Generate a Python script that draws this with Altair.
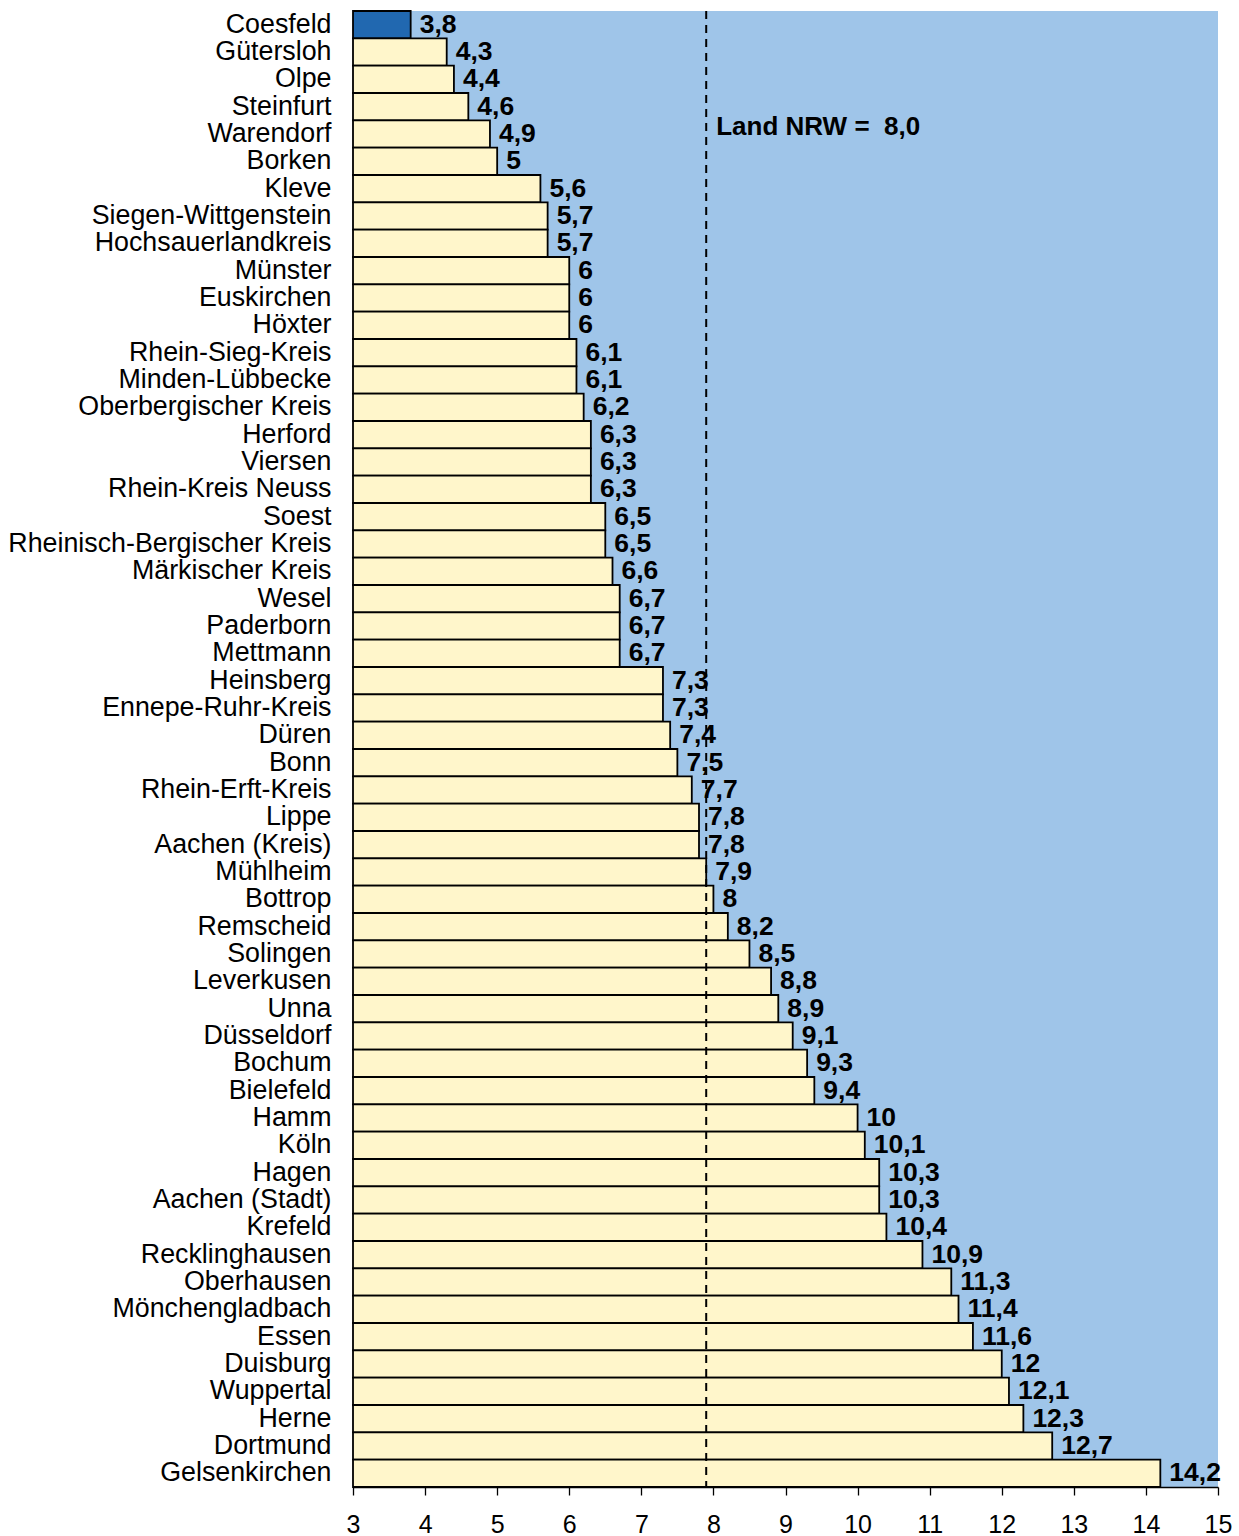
import altair as alt
import pandas as pd

regions = ["Coesfeld", "Gütersloh", "Olpe", "Steinfurt", "Warendorf", "Borken", "Kleve",
           "Siegen-Wittgenstein", "Hochsauerlandkreis", "Münster", "Euskirchen", "Höxter",
           "Rhein-Sieg-Kreis", "Minden-Lübbecke", "Oberbergischer Kreis", "Herford", "Viersen",
           "Rhein-Kreis Neuss", "Soest", "Rheinisch-Bergischer Kreis", "Märkischer Kreis",
           "Wesel", "Paderborn", "Mettmann", "Heinsberg", "Ennepe-Ruhr-Kreis", "Düren", "Bonn",
           "Rhein-Erft-Kreis", "Lippe", "Aachen (Kreis)", "Mühlheim", "Bottrop", "Remscheid",
           "Solingen", "Leverkusen", "Unna", "Düsseldorf", "Bochum", "Bielefeld", "Hamm", "Köln",
           "Hagen", "Aachen (Stadt)", "Krefeld", "Recklinghausen", "Oberhausen",
           "Mönchengladbach", "Essen", "Duisburg", "Wuppertal", "Herne", "Dortmund",
           "Gelsenkirchen"]
values = [3.8, 4.3, 4.4, 4.6, 4.9, 5, 5.6, 5.7, 5.7, 6, 6, 6, 6.1, 6.1, 6.2, 6.3, 6.3, 6.3,
          6.5, 6.5, 6.6, 6.7, 6.7, 6.7, 7.3, 7.3, 7.4, 7.5, 7.7, 7.8, 7.8, 7.9, 8, 8.2, 8.5,
          8.8, 8.9, 9.1, 9.3, 9.4, 10, 10.1, 10.3, 10.3, 10.4, 10.9, 11.3, 11.4, 11.6, 12,
          12.1, 12.3, 12.7, 14.2]
highlight = ["Coesfeld"]
nrw_line = 7.9
nrw_text = "Land NRW =\u00a0\u00a08,0"
x_ticks = list(range(3, 16))

def fmt(v):
    s = f"{v:g}"
    return s.replace(".", ",")

df = pd.DataFrame({
    "region": regions,
    "value": values,
    "label": [fmt(v) for v in values],
    "hl": ["yes" if r in highlight else "no" for r in regions],
})

FONT = "Liberation Sans"
xscale = alt.Scale(domain=[3, 15], nice=False, zero=False)
yscale = alt.Scale(domain=regions, paddingInner=0, paddingOuter=0)

base = alt.Chart(df)

bars = base.mark_bar(stroke="black", strokeWidth=1.8).encode(
    x=alt.X("value:Q", scale=xscale,
            axis=alt.Axis(values=x_ticks, format="d", title=None, tickSize=8, tickColor="black",
                          domainColor="black", labelFontSize=25, labelColor="black",
                          labelFont=FONT, labelPadding=17, grid=False, tickWidth=1.3,
                          domainWidth=1.3, labelFlush=False, labelOverlap=False)),
    x2=alt.datum(3),
    y=alt.Y("region:N", scale=yscale, sort=None,
            axis=alt.Axis(title=None, domain=False, ticks=False, labelFontSize=26.8,
                          labelFont=FONT, labelColor="black", labelPadding=22,
                          labelLimit=0)),
    color=alt.Color("hl:N", scale=alt.Scale(domain=["yes", "no"], range=["#2168b0", "#fff6cb"]),
                    legend=None),
)

labels = base.mark_text(align="left", baseline="middle", dx=9, dy=0, fontSize=26.5,
                        fontWeight="bold", font=FONT, color="black").encode(
    x=alt.X("value:Q", scale=xscale),
    y=alt.Y("region:N", scale=yscale, sort=None),
    text="label:N",
)

rule = alt.Chart(pd.DataFrame({"v": [nrw_line]})).mark_rule(
    color="black", strokeWidth=2, strokeDash=[8, 6]).encode(
    x=alt.X("v:Q", scale=xscale),
)

note = alt.Chart(pd.DataFrame({"v": [nrw_line], "t": [nrw_text]})).mark_text(
    align="left", baseline="middle", dx=10, fontSize=26, fontWeight="bold",
    font=FONT, color="black").encode(
    x=alt.X("v:Q", scale=xscale),
    y=alt.value(116),
    text="t:N",
)

chart = alt.layer(bars, rule, labels, note).properties(
    width=865, height=1476,
    autosize=alt.AutoSizeParams(type="none"),
    padding={"left": 353, "top": 11, "right": 21, "bottom": 49},
    background="white",
).configure_view(fill="#9fc5e9", stroke=None)

chart.save("out.html", embed_options={"renderer": "svg", "actions": False})
